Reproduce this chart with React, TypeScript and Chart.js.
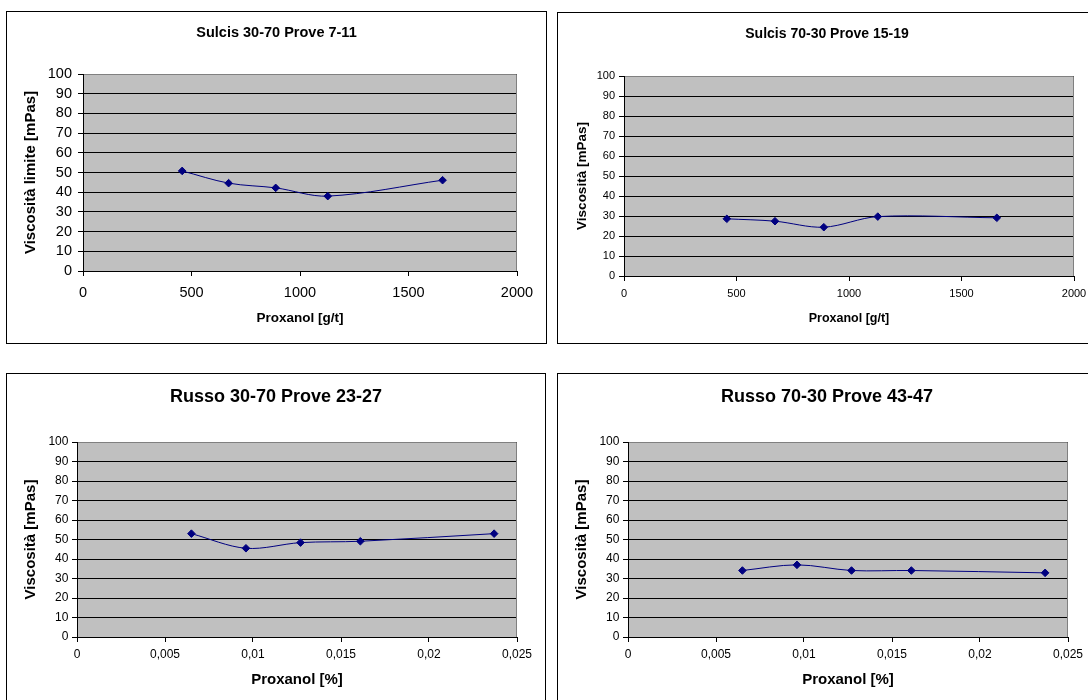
import React, { useEffect, useRef } from 'react';
import { Chart, registerables } from 'chart.js';

Chart.register(...registerables);

const FONT = "'Liberation Sans', Arial, Helvetica, sans-serif";

// ---- data ----
const sulcisDoseGt = [457, 671, 888, 1128, 1657];
const sulcis3070Visc = [50.8, 44.6, 42.2, 38.0, 46.1];
const sulcis7030Visc = [28.6, 27.4, 24.4, 29.7, 29.1];

const russoDosePct = [0.0065, 0.0096, 0.0127, 0.0161, 0.0237];
const russo3070Visc = [53.0, 45.5, 48.4, 49.1, 53.0];
const russo7030Visc = [34.1, 37.0, 34.1, 34.1, 32.9];

const viscAxis = { min: 0, max: 100, step: 10 };
const gtAxis = { min: 0, max: 2000, step: 500 };
const pctAxis = { min: 0, max: 0.025, step: 0.005 };

const titles = [
  'Sulcis 30-70 Prove 7-11',
  'Sulcis 70-30 Prove 15-19',
  'Russo 30-70 Prove 23-27',
  'Russo 70-30 Prove 43-47',
];
const yTitleLimite = 'Viscosità limite [mPas]';
const yTitle = 'Viscosità [mPas]';
const xTitleGt = 'Proxanol [g/t]';
const xTitlePct = 'Proxanol [%]';

const fmtComma = (v: number) => {
  const n = Number(Number(v).toFixed(4));
  return String(n).replace('.', ',');
};

// ---- layout of each panel (positions / sizes / fonts) ----
type Layout = {
  left: number; top: number; width: number; height: number;
  yW: number; xH: number; padTop: number; padRight: number;
  tick: number; yTickPad: number; xTickPad: number;
  xTitleSize: number; xTitlePad: number;
  yTitleSize: number; yTitlePad: number;
  titleSize: number; titleBase: number;
};

const L1: Layout = { left: 6, top: 11, width: 541, height: 333, yW: 77, xH: 73, padTop: 63, padRight: 30,
  tick: 14.5, yTickPad: 6, xTickPad: 8.5, xTitleSize: 13.5, xTitlePad: 18, yTitleSize: 15, yTitlePad: 16,
  titleSize: 14.5, titleBase: 26 };
const L2: Layout = { left: 557, top: 12, width: 540, height: 332, yW: 67, xH: 68, padTop: 64, padRight: 23,
  tick: 11, yTickPad: 4, xTickPad: 6.4, xTitleSize: 12.5, xTitlePad: 17.5, yTitleSize: 13.5, yTitlePad: 17.5,
  titleSize: 14, titleBase: 26 };
const L3: Layout = { left: 6, top: 373, width: 540, height: 340, yW: 71, xH: 76, padTop: 69, padRight: 29,
  tick: 12, yTickPad: 3.6, xTickPad: 5.8, xTitleSize: 15, xTitlePad: 24, yTitleSize: 15, yTitlePad: 16,
  titleSize: 18, titleBase: 29 };
const L4: Layout = { ...L3, left: 557 };

const panelPlugin = {
  id: 'panel',
  beforeDraw(chart: any) {
    const { ctx, chartArea: a, width, height } = chart;
    ctx.save();
    ctx.fillStyle = '#ffffff';
    ctx.fillRect(0, 0, width, height);
    ctx.fillStyle = '#c0c0c0';
    ctx.fillRect(a.left, a.top, a.right - a.left, a.bottom - a.top);
    ctx.restore();
  },
  beforeDatasetsDraw(chart: any) {
    const { ctx, chartArea: a } = chart;
    ctx.save();
    ctx.strokeStyle = '#808080';
    ctx.lineWidth = 1;
    const ty = Math.round(a.top - 0.5) + 0.5;
    const rx = Math.round(a.right - 0.5) - 0.5;
    ctx.beginPath();
    ctx.moveTo(a.left + 1, ty);
    ctx.lineTo(rx, ty);
    ctx.lineTo(rx, a.bottom);
    ctx.stroke();
    ctx.restore();
  },
  afterDraw(chart: any, _args: any, opts: any) {
    const { ctx, width, height } = chart;
    ctx.save();
    ctx.strokeStyle = '#000000';
    ctx.lineWidth = 1;
    ctx.strokeRect(0.5, 0.5, width - 1, height - 1);
    ctx.fillStyle = '#000000';
    ctx.font = `bold ${opts.size}px ${FONT}`;
    ctx.textAlign = 'center';
    ctx.textBaseline = 'alphabetic';
    ctx.fillText(opts.text, width / 2, opts.baseline);
    ctx.restore();
  },
};

type PanelProps = {
  layout: Layout; title: string; xs: number[]; ys: number[];
  xAxis: { min: number; max: number; step: number }; xTitle: string; yTitleText: string;
  comma: boolean;
};

function Panel({ layout: l, title, xs, ys, xAxis, xTitle, yTitleText, comma }: PanelProps) {
  const ref = useRef<HTMLCanvasElement | null>(null);
  useEffect(() => {
    if (!ref.current) return;
    const chart = new Chart(ref.current, {
      type: 'line',
      data: {
        datasets: [
          {
            data: xs.map((x, i) => ({ x, y: ys[i] })),
            borderColor: '#000080',
            backgroundColor: '#000080',
            borderWidth: 1,
            pointStyle: 'rectRot',
            pointRadius: 3.8,
            pointBorderWidth: 1,
            pointBorderColor: '#000080',
            pointBackgroundColor: '#000080',
            tension: 0.33,
            fill: false,
          },
        ],
      },
      options: {
        responsive: false,
        animation: false,
        events: [],
        layout: { padding: { left: 0, top: l.padTop, right: l.padRight, bottom: 0 } },
        plugins: {
          legend: { display: false },
          tooltip: { enabled: false },
          title: { display: false },
          panel: { text: title, size: l.titleSize, baseline: l.titleBase },
        } as any,
        scales: {
          x: {
            type: 'linear',
            min: xAxis.min,
            max: xAxis.max,
            ticks: {
              stepSize: xAxis.step,
              color: '#000',
              font: { family: FONT, size: l.tick },
              padding: l.xTickPad,
              maxRotation: 0,
              autoSkip: false,
              callback: (v: any) => (comma ? fmtComma(v) : String(v)),
            },
            grid: { display: true, drawOnChartArea: false, drawTicks: true, tickLength: 5, color: '#000', lineWidth: 1 },
            border: { display: true, color: '#000', width: 1 },
            title: {
              display: true, text: xTitle, color: '#000',
              font: { family: FONT, size: l.xTitleSize, weight: 'bold' },
              padding: { top: 0, bottom: l.xTitlePad },
            },
            afterFit: (s: any) => { s.height = l.xH; },
          },
          y: {
            type: 'linear',
            min: viscAxis.min,
            max: viscAxis.max,
            ticks: {
              stepSize: viscAxis.step,
              color: '#000',
              font: { family: FONT, size: l.tick },
              padding: l.yTickPad,
              autoSkip: false,
            },
            grid: { display: true, drawTicks: true, tickLength: 5, color: '#000', lineWidth: 1 },
            border: { display: true, color: '#000', width: 1 },
            title: {
              display: true, text: yTitleText, color: '#000',
              font: { family: FONT, size: l.yTitleSize, weight: 'bold' },
              padding: { top: l.yTitlePad, bottom: 0 },
            },
            afterFit: (s: any) => { s.width = l.yW; },
          },
        },
      } as any,
      plugins: [panelPlugin as any],
    });
    return () => chart.destroy();
  }, []);
  return (
    <canvas
      ref={ref}
      width={l.width}
      height={l.height}
      style={{ position: 'absolute', left: l.left, top: l.top, width: l.width, height: l.height }}
    />
  );
}

export default function App() {
  return (
    <div style={{ position: 'absolute', left: 0, top: 0, width: 1088, height: 700, overflow: 'hidden', background: '#fff' }}>
      <Panel layout={L1} title={titles[0]} xs={sulcisDoseGt} ys={sulcis3070Visc} xAxis={gtAxis} xTitle={xTitleGt} yTitleText={yTitleLimite} comma={false} />
      <Panel layout={L2} title={titles[1]} xs={sulcisDoseGt} ys={sulcis7030Visc} xAxis={gtAxis} xTitle={xTitleGt} yTitleText={yTitle} comma={false} />
      <Panel layout={L3} title={titles[2]} xs={russoDosePct} ys={russo3070Visc} xAxis={pctAxis} xTitle={xTitlePct} yTitleText={yTitle} comma={true} />
      <Panel layout={L4} title={titles[3]} xs={russoDosePct} ys={russo7030Visc} xAxis={pctAxis} xTitle={xTitlePct} yTitleText={yTitle} comma={true} />
    </div>
  );
}
